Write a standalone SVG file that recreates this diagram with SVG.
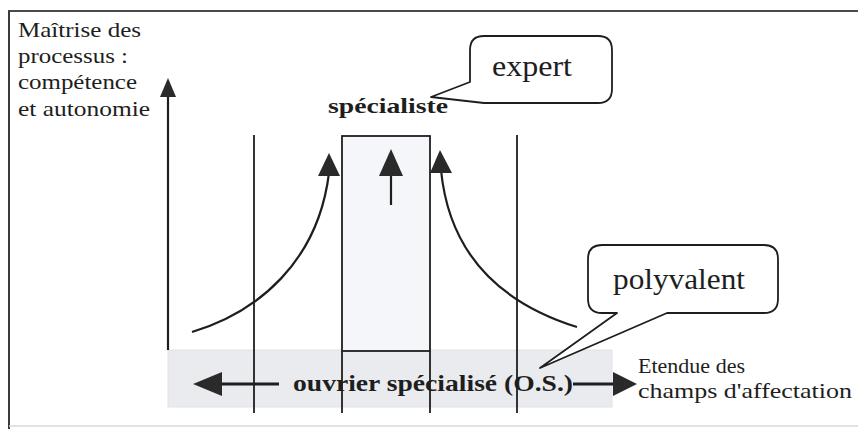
<svg xmlns="http://www.w3.org/2000/svg" width="858" height="430" viewBox="0 0 858 430">
<style>
  .t{font-family:"Liberation Serif","Times New Roman",serif;fill:#1e1e1e}
  .b{font-weight:bold}
  .ln{stroke:#1e1e1e;stroke-width:1.8;fill:none}
  .ax{stroke:#1e1e1e;stroke-width:2.2;fill:none}
  .hd{fill:#2a2a2a;stroke:none}
  .bub{fill:#fff;stroke:#1e1e1e;stroke-width:1.8;stroke-linejoin:round}
</style>
<rect width="858" height="430" fill="#fff"/>
<g id="frame">
  <line x1="8" y1="11" x2="858" y2="11" stroke="#4a4a4a" stroke-width="2"/>
  <line x1="9" y1="11" x2="9" y2="429" stroke="#3a3a3a" stroke-width="2"/>
  <line x1="9" y1="426" x2="858" y2="426" stroke="#d8d8d8" stroke-width="1.5"/>
</g>
<g id="band">
  <rect x="168" y="350" width="444" height="57" fill="#e9ebef" stroke="#dfe2e6" stroke-width="1"/>
</g>
<g id="specialiste-box">
  <rect x="342" y="136" width="88" height="215" fill="#f5f6f9" stroke="#1e1e1e" stroke-width="1.8"/>
</g>
<g id="grid">
  <line class="ln" x1="254" y1="135" x2="254" y2="413"/>
  <line class="ln" x1="517" y1="135" x2="517" y2="413"/>
  <line class="ln" x1="342" y1="351" x2="342" y2="413"/>
  <line class="ln" x1="430" y1="351" x2="430" y2="413"/>
</g>
<g id="connectors">
  <line class="ax" x1="168" y1="96" x2="168" y2="350"/>
  <polygon class="hd" points="168,78 160,97 176,97"/>
  <line class="ax" x1="391" y1="172" x2="391" y2="205"/>
  <polygon class="hd" points="391,149 379,176 403,176"/>
  <path class="ax" d="M192,332 C258,312 318,262 329,173"/>
  <polygon class="hd" points="329,153 318,176 340,176"/>
  <path class="ax" d="M577,327 C510,306 450,262 441,170"/>
  <polygon class="hd" points="440,150 430,173 452,173"/>
  <line x1="222" y1="384" x2="279" y2="384" stroke="#1e1e1e" stroke-width="3"/>
  <polygon class="hd" points="193,384 222,372 222,396"/>
  <line x1="573" y1="384" x2="614" y2="384" stroke="#1e1e1e" stroke-width="3"/>
  <polygon class="hd" points="637,384 613,372 613,396"/>
</g>
<g id="expert">
  <path class="bub" d="M484,103 L598,103 Q612,103 612,89 L612,50 Q612,36 598,36 L484,36 Q470,36 470,50 L470,82 L431,97 Z"/>
  <text class="t" x="492" y="76" font-size="30" textLength="80" lengthAdjust="spacingAndGlyphs">expert</text>
</g>
<g id="polyvalent">
  <path class="bub" d="M617,313 L540,368 L667,313 L764,313 Q778,313 778,299 L778,259 Q778,245 764,245 L602,245 Q588,245 588,259 L588,299 Q588,313 602,313 Z"/>
  <text class="t" x="613" y="289" font-size="30" textLength="132" lengthAdjust="spacingAndGlyphs">polyvalent</text>
</g>
<g id="labels">
  <text class="t" x="18" y="37" font-size="21.5" textLength="123" lengthAdjust="spacingAndGlyphs">Maîtrise des</text>
  <text class="t" x="18" y="63" font-size="21.5" textLength="110" lengthAdjust="spacingAndGlyphs">processus :</text>
  <text class="t" x="18" y="89" font-size="21.5" textLength="119" lengthAdjust="spacingAndGlyphs">compétence</text>
  <text class="t" x="18" y="116" font-size="21.5" textLength="132" lengthAdjust="spacingAndGlyphs">et autonomie</text>
  <text class="t b" x="328" y="113" font-size="22" textLength="120" lengthAdjust="spacingAndGlyphs">spécialiste</text>
  <text class="t b" x="293" y="391" font-size="24" textLength="280" lengthAdjust="spacingAndGlyphs">ouvrier spécialisé (O.S.)</text>
  <text class="t" x="638" y="373" font-size="21.5" textLength="107" lengthAdjust="spacingAndGlyphs">Etendue des</text>
  <text class="t" x="638" y="398" font-size="21.5" textLength="214" lengthAdjust="spacingAndGlyphs">champs d'affectation</text>
</g>
</svg>
